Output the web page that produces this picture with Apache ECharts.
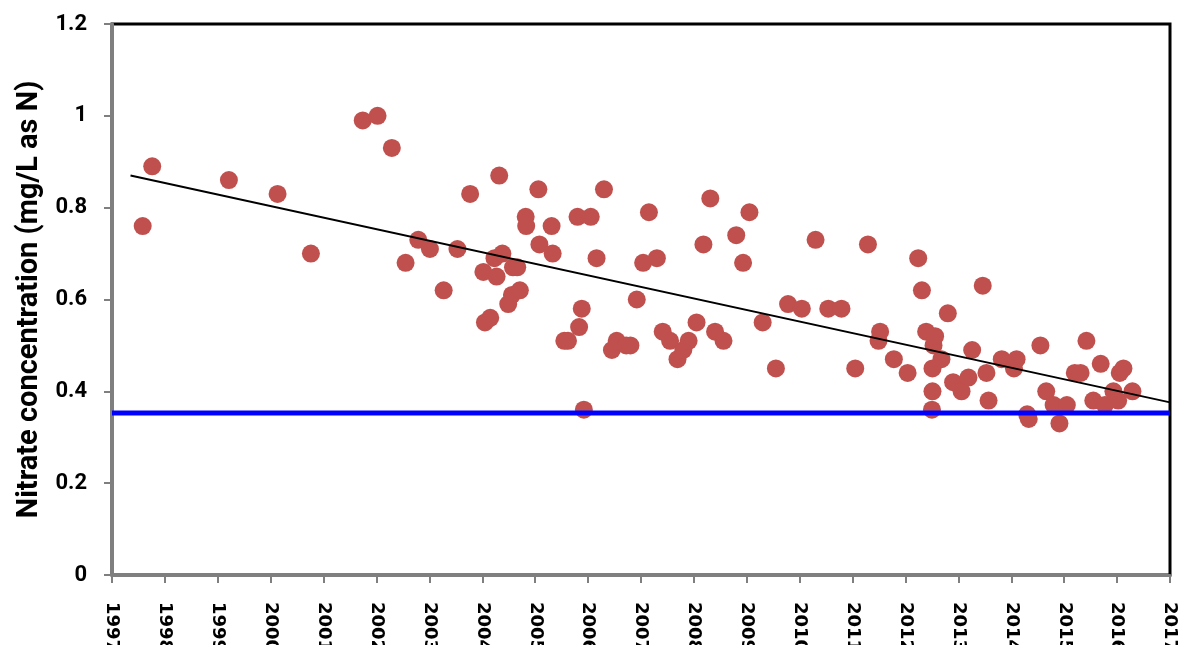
<!DOCTYPE html>
<html>
<head>
<meta charset="utf-8">
<script src="https://cdn.jsdelivr.net/npm/echarts@6/dist/echarts.min.js"></script>
<style>
  html, body { margin: 0; padding: 0; background: #fff; }
  #main { width: 1180px; height: 645px; }
</style>
</head>
<body>
<div id="main"></div>
<script>
// sampling dates (decimal years) and nitrate readings
const years = [
  1997.58, 1997.76, 1999.21, 2000.13, 2000.76, 2001.74, 2002.02, 2002.29, 2002.55, 2002.79,
  2003.01, 2003.27, 2003.53, 2003.77, 2004.02, 2004.05, 2004.15, 2004.23, 2004.27, 2004.32,
  2004.38, 2004.49, 2004.56, 2004.58, 2004.66, 2004.71, 2004.82, 2004.83, 2005.06, 2005.08,
  2005.31, 2005.33, 2005.55, 2005.62, 2005.80, 2005.83, 2005.88, 2005.92, 2006.05, 2006.16,
  2006.30, 2006.45, 2006.54, 2006.72, 2006.80, 2006.92, 2007.04, 2007.15, 2007.30, 2007.41,
  2007.55, 2007.69, 2007.80, 2007.90, 2008.05, 2008.18, 2008.31, 2008.40, 2008.56, 2008.80,
  2008.93, 2009.05, 2009.30, 2009.55, 2009.78, 2010.04, 2010.30, 2010.54, 2010.79, 2011.05,
  2011.29, 2011.49, 2011.52, 2011.78, 2012.04, 2012.24, 2012.31, 2012.39, 2012.50, 2012.51,
  2012.51, 2012.53, 2012.56, 2012.68, 2012.80, 2012.90, 2013.06, 2013.19, 2013.26, 2013.46,
  2013.53, 2013.57, 2013.82, 2014.05, 2014.10, 2014.30, 2014.33, 2014.55, 2014.66, 2014.80,
  2014.91, 2015.05, 2015.20, 2015.31, 2015.42, 2015.55, 2015.69, 2015.77, 2015.93, 2016.02,
  2016.05, 2016.12, 2016.29
];
const nitrate = [
  0.76, 0.89, 0.86, 0.83, 0.70, 0.99, 1.00, 0.93, 0.68, 0.73,
  0.71, 0.62, 0.71, 0.83, 0.66, 0.55, 0.56, 0.69, 0.65, 0.87,
  0.70, 0.59, 0.61, 0.67, 0.67, 0.62, 0.78, 0.76, 0.84, 0.72,
  0.76, 0.70, 0.51, 0.51, 0.78, 0.54, 0.58, 0.36, 0.78, 0.69,
  0.84, 0.49, 0.51, 0.50, 0.50, 0.60, 0.68, 0.79, 0.69, 0.53,
  0.51, 0.47, 0.49, 0.51, 0.55, 0.72, 0.82, 0.53, 0.51, 0.74,
  0.68, 0.79, 0.55, 0.45, 0.59, 0.58, 0.73, 0.58, 0.58, 0.45,
  0.72, 0.51, 0.53, 0.47, 0.44, 0.69, 0.62, 0.53, 0.36, 0.40,
  0.45, 0.50, 0.52, 0.47, 0.57, 0.42, 0.40, 0.43, 0.49, 0.63,
  0.44, 0.38, 0.47, 0.45, 0.47, 0.35, 0.34, 0.50, 0.40, 0.37,
  0.33, 0.37, 0.44, 0.44, 0.51, 0.38, 0.46, 0.37, 0.40, 0.38,
  0.44, 0.45, 0.40
];

// linear trend end points
const trendYears = [1997.35, 2017];
const trendValues = [0.87, 0.376];

// reference level (blue line)
const refYears = [1997, 2017];
const refValues = [0.353, 0.353];

const yTicks = [0, 0.2, 0.4, 0.6, 0.8, 1, 1.2];

const zip = (a, b) => a.map((v, i) => [v, b[i]]);

const chart = echarts.init(document.getElementById("main"));
const option = {
  animation: false,
  backgroundColor: "#fff",
  grid: {
    left: 112, right: 10, top: 24, bottom: 70,
    outerBoundsMode: "none",
    containLabel: false,
    show: true, borderColor: "#000", borderWidth: 3
  },
  xAxis: {
    type: "value",
    min: 1997, max: 2017, interval: 1,
    axisLine: { show: true, onZero: false, lineStyle: { color: "#7f7f7f", width: 3 } },
    axisTick: { show: true, length: 8, lineStyle: { color: "#7f7f7f", width: 2 } },
    axisLabel: {
      rotate: -90, margin: 27,
      color: "#000", fontFamily: "DejaVu Sans", fontWeight: "bold", fontSize: 18,
      formatter: (v) => String(Math.round(v))
    },
    splitLine: { show: false }
  },
  yAxis: {
    type: "value",
    min: yTicks[0], max: yTicks[yTicks.length - 1], interval: 0.2,
    name: "Nitrate concentration (mg/L as N)",
    nameLocation: "middle", nameGap: 65, nameRotate: 90,
    nameTextStyle: { color: "#000", fontFamily: "Roboto", fontWeight: "bold", fontSize: 29 },
    axisLine: { show: true, lineStyle: { color: "#7f7f7f", width: 3 } },
    axisTick: { show: true, length: 8, lineStyle: { color: "#7f7f7f", width: 2 } },
    axisLabel: {
      margin: 25, color: "#000", fontFamily: "Roboto", fontWeight: "bold", fontSize: 22,
      formatter: (v) => String(Math.round(v * 10) / 10)
    },
    splitLine: { show: false }
  },
  series: [
    {
      type: "scatter",
      data: zip(years, nitrate),
      symbol: "circle",
      symbolSize: 18,
      itemStyle: { color: "#C0504D", opacity: 1 }
    },
    {
      type: "line",
      data: zip(trendYears, trendValues),
      symbol: "none",
      lineStyle: { color: "#000", width: 2 }
    },
    {
      type: "line",
      data: zip(refYears, refValues),
      symbol: "none",
      lineStyle: { color: "#0000FF", width: 5 }
    }
  ]
};
chart.setOption(option);
</script>
</body>
</html>
